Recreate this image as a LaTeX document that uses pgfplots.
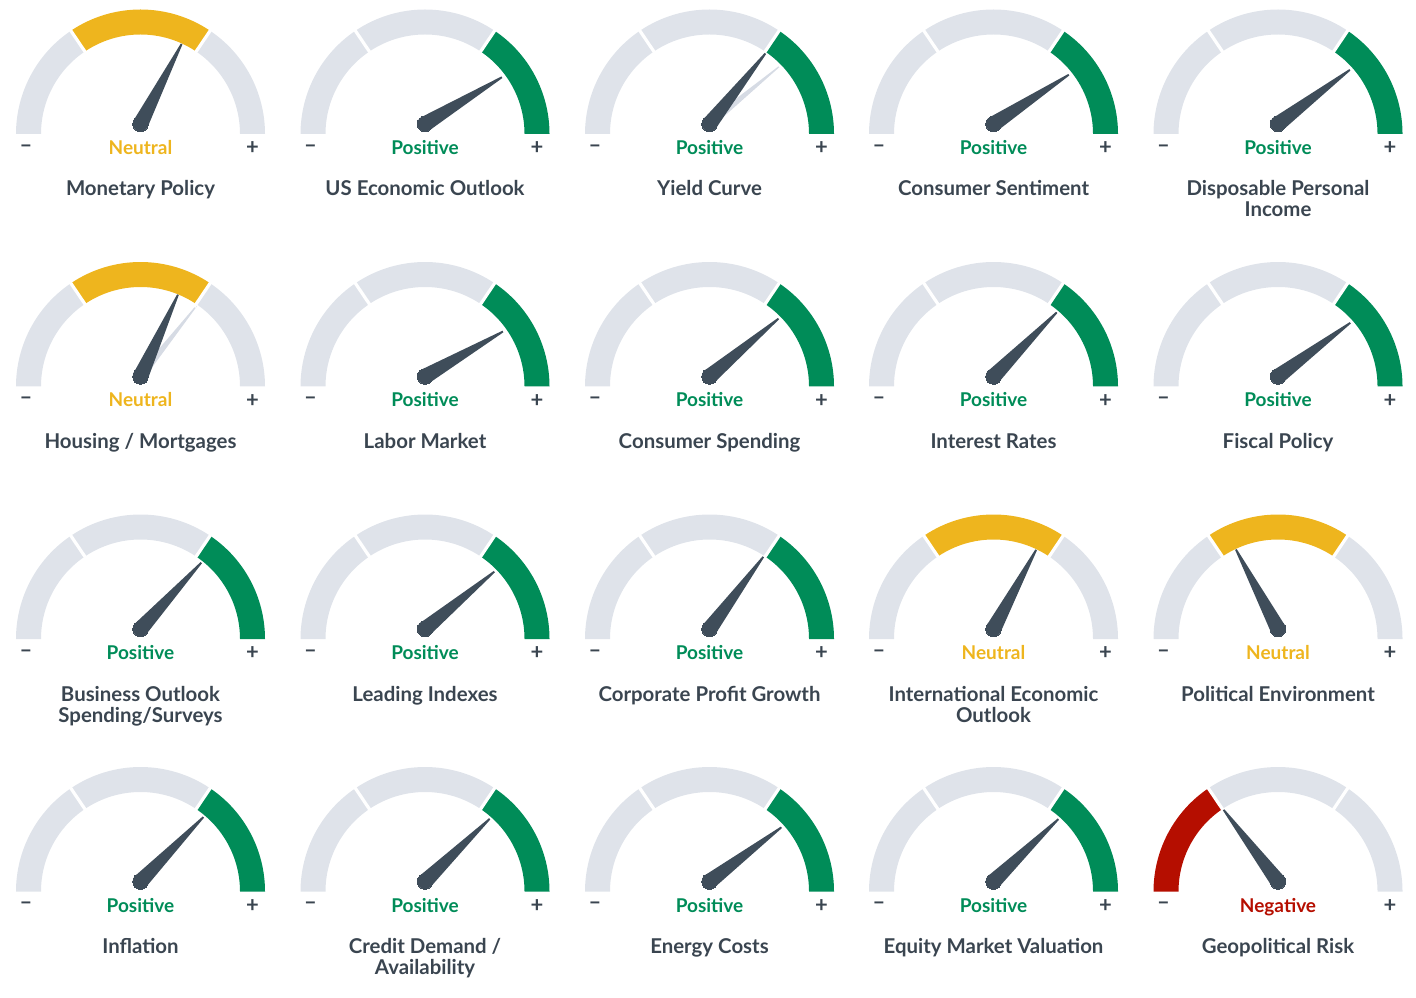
\documentclass[border=0pt]{standalone}
\usepackage{pgfplots}
\pgfplotsset{compat=1.18}
\usepackage{pgfplotstable}
\usepackage{fontspec}
\setmainfont{Lato}
\definecolor{gband}{HTML}{DFE3EA}
\definecolor{gghost}{HTML}{D6DBE4}
\definecolor{gpos}{HTML}{008C58}
\definecolor{gneu}{HTML}{EEB51E}
\definecolor{gneg}{HTML}{B50E00}
\definecolor{gneedle}{HTML}{3F4D5A}
\definecolor{gtxt}{HTML}{3A4550}
\newcommand\stfont{\fontsize{9.5}{11}\selectfont\bfseries}
\newcommand\ttlfont{\fontsize{10.2}{12}\selectfont\bfseries}
\newcommand\pmfont{\fontsize{11}{12}\selectfont\bfseries}

% gauge centre (px, y up), status 0=Negative 1=Neutral 2=Positive, needle angle (deg)
\pgfplotstableread{
cx cy st ang
140.5 863 1 62.8
425 863 2 31.3
709.5 863 2 51.6
993.5 863 2 33.2
1278 863 2 37
140.5 610.5 1 65.4
425 610.5 2 30
709.5 610.5 2 40
993.5 610.5 2 45.4
1278 610.5 2 36.6
140.5 358 2 47.5
425 358 2 39.6
709.5 358 2 53.3
993.5 358 1 61.7
1278 358 1 117.9
140.5 105.5 2 45.7
425 105.5 2 44.1
709.5 105.5 2 37
993.5 105.5 2 43.9
1278 105.5 0 127.2
}\gauges
% previous readings (faint needles)
\pgfplotstableread{
cx cy ang
709.5 863 39.5
140.5 610.5 51.6
}\ghosts

\begin{document}
\begin{tikzpicture}
\begin{axis}[
  width=708pt, height=498.5pt, scale only axis,
  xmin=0, xmax=1416, ymin=0, ymax=997,
  hide axis, clip=false,
]
\path (axis cs:0,0) rectangle (axis cs:1416,997);
\pgfplotsinvokeforeach{0,1}{
  \pgfplotstablegetelem{#1}{cx}\of\ghosts \edef\cx{\pgfplotsretval}
  \pgfplotstablegetelem{#1}{cy}\of\ghosts \edef\cy{\pgfplotsretval}
  \pgfplotstablegetelem{#1}{ang}\of\ghosts \edef\ang{\pgfplotsretval}
  \pgfmathsetmacro\py{\cy+10}
  \pgfmathsetmacro\ca{cos(\ang)}
  \pgfmathsetmacro\sa{sin(\ang)}
  \pgfmathsetmacro\xa{\cx-4*\sa}
  \pgfmathsetmacro\ya{\py+4*\ca}
  \pgfmathsetmacro\xb{\cx+90*\ca-0.6*\sa}
  \pgfmathsetmacro\yb{\py+90*\sa+0.6*\ca}
  \pgfmathsetmacro\xc{\cx+90*\ca+0.6*\sa}
  \pgfmathsetmacro\yc{\py+90*\sa-0.6*\ca}
  \pgfmathsetmacro\xd{\cx+4*\sa}
  \pgfmathsetmacro\yd{\py-4*\ca}
  \addplot[fill=gghost,draw=none] coordinates {(\xa,\ya) (\xb,\yb) (\xc,\yc) (\xd,\yd)};
}
\pgfplotsinvokeforeach{0,...,19}{
  \pgfplotstablegetelem{#1}{cx}\of\gauges \edef\cx{\pgfplotsretval}
  \pgfplotstablegetelem{#1}{cy}\of\gauges \edef\cy{\pgfplotsretval}
  \pgfplotstablegetelem{#1}{st}\of\gauges \edef\st{\pgfplotsretval}
  \pgfplotstablegetelem{#1}{ang}\of\gauges \edef\ang{\pgfplotsretval}
  \edef\cA{\ifnum\st=0 gneg\else gband\fi}
  \edef\cB{\ifnum\st=1 gneu\else gband\fi}
  \edef\cC{\ifnum\st=2 gpos\else gband\fi}
  \edef\cS{\ifcase\st\space gneg\or gneu\else gpos\fi}
  \edef\tS{\ifcase\st\space Negative\or Neutral\else Positive\fi}
  \pgfmathsetmacro\py{\cy+10}
  \pgfmathsetmacro\sy{\cy-20.5}
  \pgfmathsetmacro\my{\cy-14.5}
  \pgfmathsetmacro\mxl{\cx-114.5}
  \pgfmathsetmacro\mxr{\cx+112}
  \edef\doit{
    \noexpand\fill[\cA] (axis cs:\cx,\cy) ++(180:62.25pt) arc[start angle=180,end angle=124,radius=62.25pt] -- ++(304:12.5pt) arc[start angle=124,end angle=180,radius=49.75pt] -- cycle;
    \noexpand\fill[\cB] (axis cs:\cx,\cy) ++(124:62.25pt) arc[start angle=124,end angle=56,radius=62.25pt] -- ++(236:12.5pt) arc[start angle=56,end angle=124,radius=49.75pt] -- cycle;
    \noexpand\fill[\cC] (axis cs:\cx,\cy) ++(56:62.25pt) arc[start angle=56,end angle=0,radius=62.25pt] -- ++(180:12.5pt) arc[start angle=0,end angle=56,radius=49.75pt] -- cycle;
    \noexpand\draw[white,line width=1.6pt] (axis cs:\cx,\cy) ++(124:48pt) -- ++(124:16pt);
    \noexpand\draw[white,line width=1.6pt] (axis cs:\cx,\cy) ++(56:48pt) -- ++(56:16pt);
    \noexpand\node[anchor=base,text=\cS,font=\noexpand\stfont,inner sep=0pt] at (axis cs:\cx,\sy) {\tS};
    \noexpand\node[text=gtxt,font=\noexpand\pmfont,inner sep=0pt] at (axis cs:\mxl,\my) {–};
    \noexpand\node[text=gtxt,font=\noexpand\pmfont,inner sep=0pt] at (axis cs:\mxr,\my) {+};
  }
  \doit
  \pgfmathsetmacro\ca{cos(\ang)}
  \pgfmathsetmacro\sa{sin(\ang)}
  \pgfmathsetmacro\xa{\cx-7.8*\sa}
  \pgfmathsetmacro\ya{\py+7.8*\ca}
  \pgfmathsetmacro\xb{\cx+90*\ca-0.9*\sa}
  \pgfmathsetmacro\yb{\py+90*\sa+0.9*\ca}
  \pgfmathsetmacro\xc{\cx+90*\ca+0.9*\sa}
  \pgfmathsetmacro\yc{\py+90*\sa-0.9*\ca}
  \pgfmathsetmacro\xd{\cx+7.8*\sa}
  \pgfmathsetmacro\yd{\py-7.8*\ca}
  \addplot[fill=gneedle,draw=none] coordinates {(\xa,\ya) (\xb,\yb) (\xc,\yc) (\xd,\yd)};
  \addplot[color=gneedle,only marks,mark=*,mark size=3.9pt,mark options={fill=gneedle,draw=gneedle,line width=0pt}] coordinates {(\cx,\py)};
}
\tikzset{ttl/.style={anchor=base,font=\ttlfont,text=gtxt,inner sep=0pt}}
% row 1
\node[ttl] at (axis cs:140.5,801) {Monetary Policy};
\node[ttl] at (axis cs:425,801) {US Economic Outlook};
\node[ttl] at (axis cs:709.5,801) {Yield Curve};
\node[ttl] at (axis cs:993.5,801) {Consumer Sentiment};
\node[ttl] at (axis cs:1278,801) {Disposable Personal};
\node[ttl] at (axis cs:1278,780) {Income};
% row 2
\node[ttl] at (axis cs:140.5,548.5) {Housing / Mortgages};
\node[ttl] at (axis cs:425,548.5) {Labor Market};
\node[ttl] at (axis cs:709.5,548.5) {Consumer Spending};
\node[ttl] at (axis cs:993.5,548.5) {Interest Rates};
\node[ttl] at (axis cs:1278,548.5) {Fiscal Policy};
% row 3
\node[ttl] at (axis cs:140.5,296) {Business Outlook};
\node[ttl] at (axis cs:140.5,275) {Spending/Surveys};
\node[ttl] at (axis cs:425,296) {Leading Indexes};
\node[ttl] at (axis cs:709.5,296) {Corporate Profit Growth};
\node[ttl] at (axis cs:993.5,296) {International Economic};
\node[ttl] at (axis cs:993.5,275) {Outlook};
\node[ttl] at (axis cs:1278,296) {Political Environment};
% row 4
\node[ttl] at (axis cs:140.5,43.5) {Inflation};
\node[ttl] at (axis cs:425,43.5) {Credit Demand /};
\node[ttl] at (axis cs:425,22.5) {Availability};
\node[ttl] at (axis cs:709.5,43.5) {Energy Costs};
\node[ttl] at (axis cs:993.5,43.5) {Equity Market Valuation};
\node[ttl] at (axis cs:1278,43.5) {Geopolitical Risk};
\end{axis}
\end{tikzpicture}
\end{document}
